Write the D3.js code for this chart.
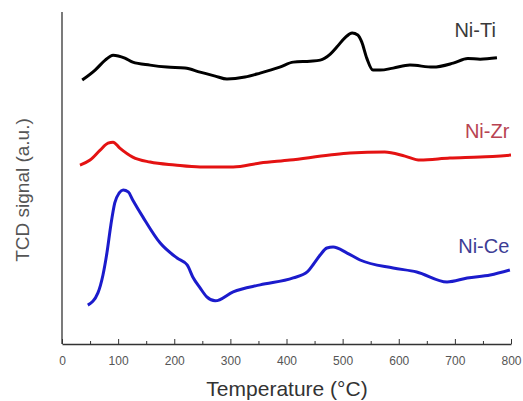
<!DOCTYPE html>
<html>
<head>
<meta charset="utf-8">
<script src="https://cdn.jsdelivr.net/npm/d3@7"></script>
<style>
  body { margin: 0; background: #fff; }
  text { font-family: "Liberation Sans", Arial, sans-serif; }
</style>
</head>
<body>
<script>
var width = 523;
var height = 401;

// temperatures (°C) and TCD signal (a.u.)
var tiTemp = [36, 59, 77, 91, 112, 126, 157, 187, 219, 246, 273, 294, 326, 353, 388, 412, 442, 460, 478, 490, 504, 517, 527, 534, 543, 554, 567, 590, 620, 661, 697, 723, 745, 775];
var tiSignal = [79.5, 82.5, 85.5, 87.0, 86.1, 84.9, 84.0, 83.4, 83.1, 81.9, 80.7, 79.8, 80.4, 81.6, 83.4, 84.9, 85.2, 85.5, 87.3, 89.5, 92.2, 93.7, 93.1, 91.0, 86.1, 82.5, 82.5, 83.1, 84.0, 83.4, 84.6, 86.0, 85.8, 86.2];

var zrTemp = [32, 50, 68, 82, 91, 103, 126, 157, 201, 246, 305, 353, 406, 477, 513, 575, 611, 638, 691, 745, 800];
var zrSignal = [53.9, 55.4, 58.4, 60.5, 60.8, 59.0, 56.3, 54.8, 53.9, 53.3, 53.3, 54.5, 55.4, 56.9, 57.5, 57.8, 56.6, 55.4, 56.0, 56.3, 56.9];

var ceTemp = [46, 64, 73, 80, 87, 94, 102, 109, 118, 126, 144, 175, 205, 223, 233, 246, 258, 273, 305, 353, 412, 437, 447, 460, 472, 483, 508, 531, 590, 632, 686, 722, 763, 798];
var ceSignal = [11.7, 15.4, 20.8, 27.4, 35.8, 42.5, 45.5, 46.4, 45.8, 43.4, 38.3, 30.4, 25.9, 23.8, 20.2, 16.9, 14.2, 13.0, 15.7, 17.8, 19.9, 21.7, 23.8, 26.8, 28.9, 29.2, 27.4, 25.3, 22.9, 21.7, 18.7, 19.9, 20.8, 22.3];

var seriesNames = ["Ni-Ti", "Ni-Zr", "Ni-Ce"];
var xTicks = [0, 100, 200, 300, 400, 500, 600, 700, 800];
var xMinorTicks = [50, 150, 250, 350, 450, 550, 650, 750];

var series = [
  { name: seriesNames[0], temp: tiTemp, signal: tiSignal, color: "#000000", labelColor: "#3a3a3a", labelAt: [773, 92.5] },
  { name: seriesNames[1], temp: zrTemp, signal: zrSignal, color: "#e41212", labelColor: "#b84352", labelAt: [797, 62.0] },
  { name: seriesNames[2], temp: ceTemp, signal: ceSignal, color: "#1b1bcc", labelColor: "#3d3d95", labelAt: [797, 27.5] }
];

var margin = { top: 12, right: 12, bottom: 57, left: 62 };

var svg = d3.select("body")
            .append("svg")
            .attr("width", width)
            .attr("height", height);

var xScale = d3.scaleLinear()
               .domain([0, 800])
               .range([margin.left, width - margin.right]);

var yScale = d3.scaleLinear()
               .domain([0, 100])
               .range([height - margin.bottom, margin.top]);

// minor ticks
svg.append("g")
   .attr("transform", "translate(0," + (height - margin.bottom) + ")")
   .call(d3.axisBottom(xScale).tickValues(xMinorTicks).tickSize(-3).tickFormat(""))
   .call(g => g.select(".domain").remove())
   .selectAll("line").attr("stroke", "#333");

var xAxis = svg.append("g")
   .attr("transform", "translate(0," + (height - margin.bottom) + ")")
   .call(d3.axisBottom(xScale).tickValues(xTicks).tickSizeInner(-5).tickSizeOuter(0).tickPadding(12));

xAxis.select(".domain").attr("stroke", "#333").attr("stroke-width", 1.3);
xAxis.selectAll("line").attr("stroke", "#333");
xAxis.selectAll("text")
     .attr("fill", "#555")
     .style("font-size", "12px");

// left axis line only
svg.append("line")
   .attr("x1", xScale(0)).attr("x2", xScale(0))
   .attr("y1", yScale(100)).attr("y2", yScale(0))
   .attr("stroke", "#333")
   .attr("stroke-width", 1.3);

var line = d3.line()
             .x(d => xScale(d[0]))
             .y(d => yScale(d[1]))
             .curve(d3.curveMonotoneX);

series.forEach(function(s){
  var pts = s.temp.map((t, i) => [t, s.signal[i]]);
  svg.append("path")
     .datum(pts)
     .attr("fill", "none")
     .attr("stroke", s.color)
     .attr("stroke-width", 3)
     .attr("stroke-linejoin", "round")
     .attr("d", line);

  svg.append("text")
     .attr("x", xScale(s.labelAt[0]))
     .attr("y", yScale(s.labelAt[1]))
     .attr("text-anchor", "end")
     .attr("fill", s.labelColor)
     .style("font-size", "20px")
     .text(s.name);
});

svg.append("text")
   .attr("x", 287)
   .attr("y", 396)
   .attr("text-anchor", "middle")
   .attr("fill", "#333")
   .style("font-size", "21px")
   .text("Temperature (°C)");

svg.append("text")
   .attr("transform", "translate(29,190) rotate(-90)")
   .attr("text-anchor", "middle")
   .attr("fill", "#555")
   .style("font-size", "19px")
   .text("TCD signal (a.u.)");
</script>
</body>
</html>
